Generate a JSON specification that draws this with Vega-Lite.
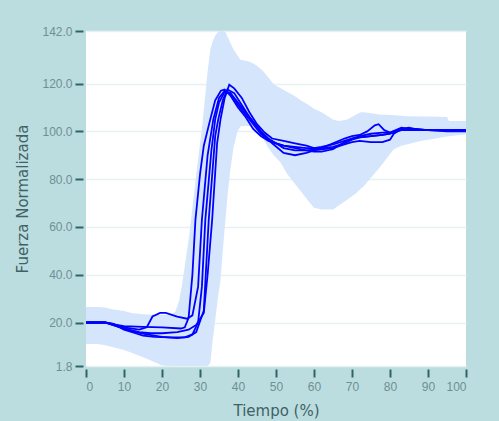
{
  "$schema": "https://vega.github.io/schema/vega-lite/v6.json",
  "autosize": "none",
  "width": 380,
  "height": 335,
  "padding": {"left": 86, "top": 31, "right": 33, "bottom": 55},
  "background": "#bcdde0",
  "config": {
    "view": {"fill": "white", "stroke": null},
    "font": "Liberation Sans"
  },
  "datasets": {
    "band": [
      {"t": 0, "lo": 11, "hi": 26.5},
      {"t": 3, "lo": 11, "hi": 26.5},
      {"t": 5, "lo": 10.5, "hi": 26.3},
      {"t": 7, "lo": 9.8, "hi": 25.5},
      {"t": 10, "lo": 8.5, "hi": 24.8},
      {"t": 12, "lo": 7.3, "hi": 24},
      {"t": 15, "lo": 5.5, "hi": 23.5},
      {"t": 18, "lo": 3.5, "hi": 23.2},
      {"t": 20, "lo": 2, "hi": 23.2},
      {"t": 22, "lo": 1.8, "hi": 23.2},
      {"t": 23.5, "lo": 1.8, "hi": 24.5},
      {"t": 24.5, "lo": 1.8, "hi": 29},
      {"t": 25.3, "lo": 1.8, "hi": 36},
      {"t": 26.4, "lo": 1.8, "hi": 48},
      {"t": 27.3, "lo": 1.8, "hi": 58},
      {"t": 28, "lo": 1.8, "hi": 68},
      {"t": 29.3, "lo": 1.8, "hi": 86},
      {"t": 30.5, "lo": 1.8, "hi": 101},
      {"t": 31.5, "lo": 1.8, "hi": 117},
      {"t": 32, "lo": 1.8, "hi": 125},
      {"t": 32.7, "lo": 3, "hi": 134},
      {"t": 33.3, "lo": 12, "hi": 137.5},
      {"t": 34, "lo": 21, "hi": 140},
      {"t": 34.7, "lo": 30, "hi": 141.5},
      {"t": 35.4, "lo": 38, "hi": 142},
      {"t": 36, "lo": 50, "hi": 142},
      {"t": 36.7, "lo": 63, "hi": 141.5},
      {"t": 37.3, "lo": 74, "hi": 139.5},
      {"t": 38, "lo": 84, "hi": 137},
      {"t": 38.8, "lo": 93, "hi": 134.4},
      {"t": 39.8, "lo": 99.6, "hi": 132},
      {"t": 40.6, "lo": 102, "hi": 130},
      {"t": 42, "lo": 102.3, "hi": 129.5},
      {"t": 43.3, "lo": 102, "hi": 129},
      {"t": 45, "lo": 100, "hi": 127.5},
      {"t": 46.7, "lo": 96.7, "hi": 125},
      {"t": 48, "lo": 93, "hi": 122.5},
      {"t": 49.4, "lo": 90, "hi": 119.7},
      {"t": 51.2, "lo": 87, "hi": 118},
      {"t": 53, "lo": 82, "hi": 116.5},
      {"t": 54.7, "lo": 78.6, "hi": 115},
      {"t": 56.5, "lo": 75, "hi": 113},
      {"t": 58.2, "lo": 71.5, "hi": 111.5},
      {"t": 60, "lo": 68, "hi": 109.5},
      {"t": 62, "lo": 67.3, "hi": 108},
      {"t": 65, "lo": 67.3, "hi": 105},
      {"t": 66.5, "lo": 69, "hi": 104.3},
      {"t": 68.8, "lo": 71.5, "hi": 105},
      {"t": 71, "lo": 74, "hi": 107},
      {"t": 72.3, "lo": 76, "hi": 108},
      {"t": 73.1, "lo": 77, "hi": 108},
      {"t": 75.5, "lo": 81.5, "hi": 107.5},
      {"t": 77.6, "lo": 85.5, "hi": 107},
      {"t": 79.5, "lo": 89.5, "hi": 107},
      {"t": 81, "lo": 92.5, "hi": 106.7},
      {"t": 83, "lo": 94, "hi": 106.5},
      {"t": 84.6, "lo": 94.6, "hi": 106.3},
      {"t": 88, "lo": 96, "hi": 106.2},
      {"t": 90.8, "lo": 96.7, "hi": 106.2},
      {"t": 95, "lo": 97.8, "hi": 106},
      {"t": 95.5, "lo": 97.9, "hi": 104.3},
      {"t": 100, "lo": 98.8, "hi": 104.3}
    ],
    "lines": [
      {"s": "A", "t": 0, "v": 20}, {"s": "A", "t": 5, "v": 20}, {"s": "A", "t": 8, "v": 19}, {"s": "A", "t": 10, "v": 18.5}, {"s": "A", "t": 15, "v": 18.2}, {"s": "A", "t": 20, "v": 18}, {"s": "A", "t": 25, "v": 17.5}, {"s": "A", "t": 26, "v": 18}, {"s": "A", "t": 27, "v": 22}, {"s": "A", "t": 28, "v": 40}, {"s": "A", "t": 28.8, "v": 63}, {"s": "A", "t": 30, "v": 82}, {"s": "A", "t": 31, "v": 94}, {"s": "A", "t": 32.7, "v": 105}, {"s": "A", "t": 34, "v": 113}, {"s": "A", "t": 35.5, "v": 117}, {"s": "A", "t": 36.5, "v": 117.5}, {"s": "A", "t": 38, "v": 115}, {"s": "A", "t": 40, "v": 110}, {"s": "A", "t": 42, "v": 106}, {"s": "A", "t": 44, "v": 101}, {"s": "A", "t": 46, "v": 98}, {"s": "A", "t": 48, "v": 96}, {"s": "A", "t": 50, "v": 95}, {"s": "A", "t": 52, "v": 94}, {"s": "A", "t": 55, "v": 93.5}, {"s": "A", "t": 58, "v": 93}, {"s": "A", "t": 60, "v": 93}, {"s": "A", "t": 62, "v": 93.5}, {"s": "A", "t": 65, "v": 94.5}, {"s": "A", "t": 68, "v": 96}, {"s": "A", "t": 70, "v": 97}, {"s": "A", "t": 72, "v": 97.5}, {"s": "A", "t": 75, "v": 98}, {"s": "A", "t": 78, "v": 98.5}, {"s": "A", "t": 80, "v": 99}, {"s": "A", "t": 83, "v": 101}, {"s": "A", "t": 85, "v": 101.5}, {"s": "A", "t": 88, "v": 100.5}, {"s": "A", "t": 95, "v": 100.5}, {"s": "A", "t": 100, "v": 100.5},
      {"s": "B", "t": 0, "v": 20}, {"s": "B", "t": 5, "v": 20}, {"s": "B", "t": 8, "v": 19}, {"s": "B", "t": 10, "v": 18}, {"s": "B", "t": 14, "v": 17}, {"s": "B", "t": 16, "v": 18}, {"s": "B", "t": 17.5, "v": 22.5}, {"s": "B", "t": 19.5, "v": 24}, {"s": "B", "t": 21, "v": 24}, {"s": "B", "t": 24, "v": 22.5}, {"s": "B", "t": 26.6, "v": 21.6}, {"s": "B", "t": 28, "v": 23}, {"s": "B", "t": 29.5, "v": 35}, {"s": "B", "t": 30.5, "v": 63}, {"s": "B", "t": 32, "v": 90}, {"s": "B", "t": 33.5, "v": 105}, {"s": "B", "t": 35, "v": 114}, {"s": "B", "t": 36.5, "v": 117}, {"s": "B", "t": 38, "v": 116}, {"s": "B", "t": 40, "v": 111}, {"s": "B", "t": 42, "v": 107}, {"s": "B", "t": 44, "v": 103}, {"s": "B", "t": 46, "v": 99}, {"s": "B", "t": 48, "v": 96.5}, {"s": "B", "t": 50, "v": 95}, {"s": "B", "t": 52, "v": 93}, {"s": "B", "t": 55, "v": 92}, {"s": "B", "t": 58, "v": 92}, {"s": "B", "t": 60, "v": 92.5}, {"s": "B", "t": 62, "v": 93}, {"s": "B", "t": 65, "v": 95}, {"s": "B", "t": 68, "v": 97}, {"s": "B", "t": 70, "v": 98}, {"s": "B", "t": 72, "v": 98.5}, {"s": "B", "t": 74, "v": 100}, {"s": "B", "t": 76, "v": 102.5}, {"s": "B", "t": 77, "v": 103}, {"s": "B", "t": 78.5, "v": 100.5}, {"s": "B", "t": 80, "v": 99.5}, {"s": "B", "t": 83, "v": 101.5}, {"s": "B", "t": 85, "v": 101}, {"s": "B", "t": 90, "v": 100.5}, {"s": "B", "t": 95, "v": 100}, {"s": "B", "t": 100, "v": 100},
      {"s": "C", "t": 0, "v": 20}, {"s": "C", "t": 5, "v": 20}, {"s": "C", "t": 7, "v": 19.5}, {"s": "C", "t": 10, "v": 17}, {"s": "C", "t": 13, "v": 15.5}, {"s": "C", "t": 15, "v": 14.5}, {"s": "C", "t": 18, "v": 14}, {"s": "C", "t": 22, "v": 13.8}, {"s": "C", "t": 26, "v": 13.8}, {"s": "C", "t": 28, "v": 15}, {"s": "C", "t": 29.5, "v": 20}, {"s": "C", "t": 30.5, "v": 35}, {"s": "C", "t": 31.4, "v": 63}, {"s": "C", "t": 33, "v": 92}, {"s": "C", "t": 34, "v": 105}, {"s": "C", "t": 35, "v": 112}, {"s": "C", "t": 36.5, "v": 116.5}, {"s": "C", "t": 38, "v": 116}, {"s": "C", "t": 40, "v": 112}, {"s": "C", "t": 42, "v": 108}, {"s": "C", "t": 44, "v": 104}, {"s": "C", "t": 46, "v": 100}, {"s": "C", "t": 48, "v": 97}, {"s": "C", "t": 50, "v": 95}, {"s": "C", "t": 52, "v": 94}, {"s": "C", "t": 55, "v": 93}, {"s": "C", "t": 58, "v": 92}, {"s": "C", "t": 60, "v": 91.5}, {"s": "C", "t": 62, "v": 91.5}, {"s": "C", "t": 65, "v": 92.5}, {"s": "C", "t": 68, "v": 95.5}, {"s": "C", "t": 70, "v": 97}, {"s": "C", "t": 72, "v": 98}, {"s": "C", "t": 75, "v": 99}, {"s": "C", "t": 78, "v": 99.5}, {"s": "C", "t": 80, "v": 99.5}, {"s": "C", "t": 83, "v": 101}, {"s": "C", "t": 86, "v": 101}, {"s": "C", "t": 90, "v": 100.5}, {"s": "C", "t": 95, "v": 100.5}, {"s": "C", "t": 100, "v": 100.5},
      {"s": "D", "t": 0, "v": 20}, {"s": "D", "t": 5, "v": 20}, {"s": "D", "t": 8, "v": 18.5}, {"s": "D", "t": 10, "v": 17.5}, {"s": "D", "t": 13, "v": 16}, {"s": "D", "t": 16, "v": 15}, {"s": "D", "t": 20, "v": 14}, {"s": "D", "t": 24, "v": 13.5}, {"s": "D", "t": 27, "v": 14}, {"s": "D", "t": 29, "v": 16}, {"s": "D", "t": 31, "v": 25}, {"s": "D", "t": 32.3, "v": 63}, {"s": "D", "t": 34, "v": 98}, {"s": "D", "t": 34.8, "v": 105}, {"s": "D", "t": 36, "v": 113}, {"s": "D", "t": 37.2, "v": 117.5}, {"s": "D", "t": 39, "v": 116}, {"s": "D", "t": 41, "v": 111}, {"s": "D", "t": 43, "v": 106}, {"s": "D", "t": 45, "v": 102}, {"s": "D", "t": 47, "v": 98}, {"s": "D", "t": 49, "v": 95}, {"s": "D", "t": 52, "v": 91}, {"s": "D", "t": 55, "v": 90}, {"s": "D", "t": 58, "v": 91}, {"s": "D", "t": 60, "v": 92}, {"s": "D", "t": 62, "v": 92.5}, {"s": "D", "t": 65, "v": 93}, {"s": "D", "t": 68, "v": 94.5}, {"s": "D", "t": 70, "v": 95.5}, {"s": "D", "t": 72, "v": 96}, {"s": "D", "t": 75, "v": 95.5}, {"s": "D", "t": 78, "v": 95.5}, {"s": "D", "t": 80, "v": 96.5}, {"s": "D", "t": 81, "v": 99}, {"s": "D", "t": 83, "v": 101}, {"s": "D", "t": 86, "v": 101}, {"s": "D", "t": 90, "v": 100.5}, {"s": "D", "t": 95, "v": 100.3}, {"s": "D", "t": 100, "v": 100.3},
      {"s": "E", "t": 0, "v": 20}, {"s": "E", "t": 5, "v": 20}, {"s": "E", "t": 8, "v": 18.5}, {"s": "E", "t": 10, "v": 17.5}, {"s": "E", "t": 14, "v": 16}, {"s": "E", "t": 17, "v": 15.5}, {"s": "E", "t": 20, "v": 15.5}, {"s": "E", "t": 24, "v": 16}, {"s": "E", "t": 27, "v": 17}, {"s": "E", "t": 29, "v": 19}, {"s": "E", "t": 31, "v": 24}, {"s": "E", "t": 32, "v": 40}, {"s": "E", "t": 33.2, "v": 63}, {"s": "E", "t": 34.5, "v": 95}, {"s": "E", "t": 35.4, "v": 105}, {"s": "E", "t": 36.5, "v": 114}, {"s": "E", "t": 37.7, "v": 119.5}, {"s": "E", "t": 39, "v": 118}, {"s": "E", "t": 41, "v": 114}, {"s": "E", "t": 43, "v": 108}, {"s": "E", "t": 45, "v": 103}, {"s": "E", "t": 47, "v": 99.5}, {"s": "E", "t": 49, "v": 97}, {"s": "E", "t": 52, "v": 96}, {"s": "E", "t": 55, "v": 95}, {"s": "E", "t": 58, "v": 94}, {"s": "E", "t": 60, "v": 93}, {"s": "E", "t": 62, "v": 93}, {"s": "E", "t": 65, "v": 93.5}, {"s": "E", "t": 68, "v": 95}, {"s": "E", "t": 70, "v": 96.5}, {"s": "E", "t": 72, "v": 97.5}, {"s": "E", "t": 75, "v": 98}, {"s": "E", "t": 78, "v": 98.5}, {"s": "E", "t": 80, "v": 99}, {"s": "E", "t": 83, "v": 100.5}, {"s": "E", "t": 86, "v": 100.5}, {"s": "E", "t": 90, "v": 100.5}, {"s": "E", "t": 95, "v": 100.5}, {"s": "E", "t": 100, "v": 100.5}
    ]
  },
  "encoding": {
    "x": {
      "field": "t", "type": "quantitative",
      "scale": {"domain": [0, 100], "nice": false, "zero": false},
      "axis": {
        "title": "Tiempo (%)", "values": [0, 10, 20, 30, 40, 50, 60, 70, 80, 90, 100],
        "grid": false, "domain": false, "offset": 3, "tickSize": 8, "tickWidth": 2,
        "tickColor": "#2e6466", "labelColor": "#6d9092", "labelFontSize": 12,
        "labelPadding": 4, "titleFont": "DejaVu Sans", "titleFontSize": 15,
        "titleFontWeight": "normal", "titleColor": "#3f6264", "titlePadding": 11
      }
    }
  },
  "layer": [
    {
      "data": {"name": "band"},
      "mark": {"type": "area", "color": "#d5e6fc", "opacity": 1},
      "encoding": {
        "y": {
          "field": "lo", "type": "quantitative",
          "scale": {"domain": [1.8, 142], "nice": false, "zero": false},
          "axis": {
            "title": "Fuerza Normalizada", "values": [1.8, 20, 40, 60, 80, 100, 120, 142],
            "format": ".1f", "domain": false, "offset": 3, "tickSize": 8, "tickWidth": 2,
            "tickColor": "#2e6466", "labelColor": "#6d9092", "labelFontSize": 12,
            "labelPadding": 3, "gridColor": "#e7f1f1", "gridWidth": 1.5,
            "titleFont": "DejaVu Sans", "titleFontSize": 15, "titleFontWeight": "normal",
            "titleColor": "#3f6264", "titlePadding": 11
          }
        },
        "y2": {"field": "hi"}
      }
    },
    {
      "data": {"name": "lines"},
      "mark": {"type": "line", "color": "#0000ff", "strokeWidth": 1.8},
      "encoding": {
        "y": {"field": "v", "type": "quantitative"},
        "detail": {"field": "s"}
      }
    },
    {
      "data": {"values": [{}]},
      "mark": {"type": "rule", "color": "#a9a9a9", "strokeWidth": 2},
      "encoding": {"x": {"datum": 0}}
    },
    {
      "data": {"values": [{}]},
      "mark": {"type": "rule", "color": "#a9a9a9", "strokeWidth": 2},
      "encoding": {"y": {"datum": 142}}
    }
  ]
}
